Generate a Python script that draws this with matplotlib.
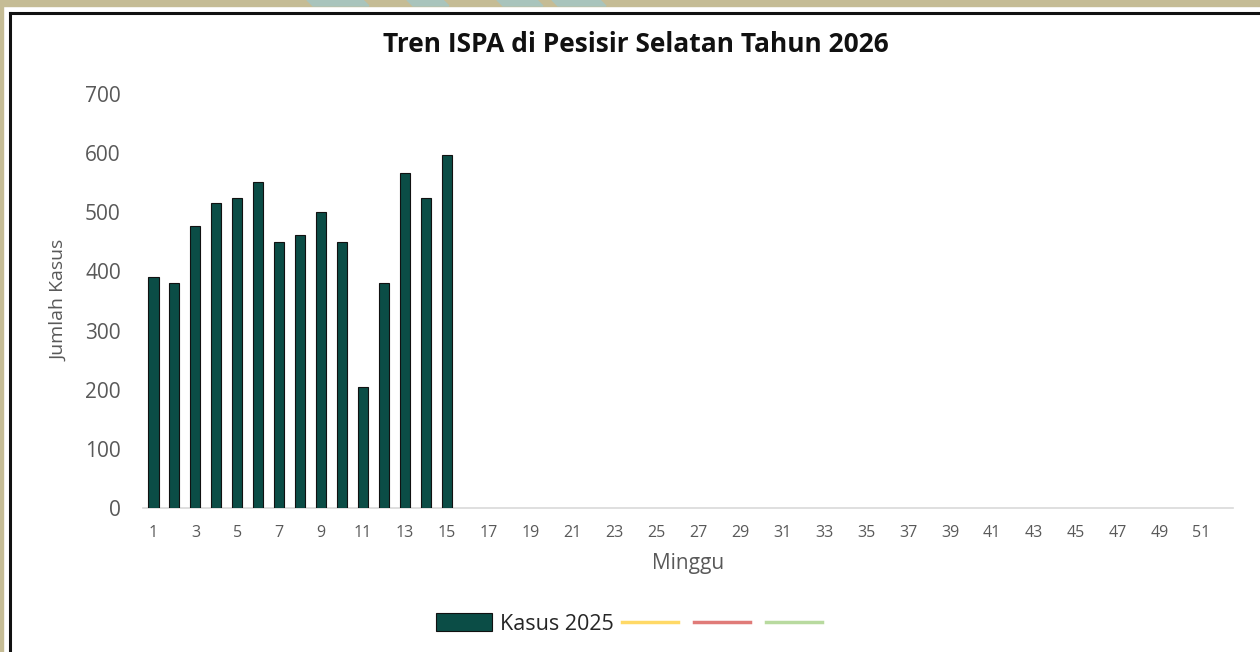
import matplotlib.pyplot as plt
from matplotlib.lines import Line2D
from matplotlib.patches import Patch, Rectangle, Polygon

# weekly ISPA cases (weeks 1-15 filled, rest empty)
weeks = list(range(1, 53))
kasus_2025 = [390, 380, 476, 516, 524, 552, 450, 461, 501, 450, 204, 380, 566, 524, 597]
y_ticks = [0, 100, 200, 300, 400, 500, 600, 700]
x_tick_labels = [str(w) for w in weeks[::2]]

bar_color = '#0b4d46'
line_colors = ['#ffd966', '#e07b78', '#b8da9f']

plt.rcParams['font.family'] = ['Open Sans', 'DejaVu Sans']

fig = plt.figure(figsize=(12.6, 6.52), dpi=100)
W, H = 1260, 652

# beige frame around the slide, with thin decorative teal strips on top
fig.patches.append(Rectangle((0, 1 - 6 / H), 1, 6 / H, transform=fig.transFigure,
                             color='#c5bc95', zorder=0))
fig.patches.append(Rectangle((0, 0), 3 / W, 1, transform=fig.transFigure,
                             color='#c5bc95', zorder=0))
for x0, x1 in [(307, 363), (407, 443), (497, 537), (552, 600)]:
    fig.patches.append(Polygon([(x0 / W, 1), (x1 / W, 1), ((x1 + 6) / W, 1 - 6 / H),
                                ((x0 + 6) / W, 1 - 6 / H)], closed=True,
                               transform=fig.transFigure, color='#a9c4bc', zorder=1))
# black chart border (top and left)
fig.add_artist(Line2D([10 / W, 1], [1 - 13 / H, 1 - 13 / H], transform=fig.transFigure,
                      color='#111111', lw=2.2))
fig.add_artist(Line2D([10 / W, 10 / W], [0, 1 - 13 / H], transform=fig.transFigure,
                      color='#111111', lw=2.2))

ax = fig.add_axes([143 / W, 1 - 508 / H, (1233 - 143) / W, (508 - 94) / H])
ax.bar(weeks[:len(kasus_2025)], kasus_2025, width=0.48, color=bar_color,
       edgecolor='#111111', linewidth=0.8, zorder=3)

ax.set_xlim(0.5, 52.5)
ax.set_ylim(0, 700)
ax.set_yticks(y_ticks)
ax.set_xticks(weeks[::2])
ax.set_xticklabels(x_tick_labels)
ax.tick_params(axis='y', length=0, labelsize=15, labelcolor='#595959', pad=16)
ax.tick_params(axis='x', length=0, labelsize=11.5, labelcolor='#595959', pad=12)
for s in ['top', 'right', 'left']:
    ax.spines[s].set_visible(False)
ax.spines['bottom'].set_color('#d9d9d9')
ax.spines['bottom'].set_linewidth(1.2)

fig.text(636 / W, 1 - 45 / H, 'Tren ISPA di Pesisir Selatan Tahun 2026', ha='center',
         va='center', fontsize=19, fontweight='bold', color='#111111')
fig.text(59 / W, 1 - 300 / H, 'Jumlah Kasus', rotation=90, ha='center', va='center',
         fontsize=14, color='#595959')
fig.text(688 / W, 1 - 563 / H, 'Minggu', ha='center', va='center',
         fontsize=15, color='#595959')

handles = [Patch(facecolor=bar_color, edgecolor='#111111', linewidth=0.8)]
handles += [Line2D([], [], color=c, lw=2.5) for c in line_colors]
labels = ['Kasus 2025', '', '', '']
fig.legend(handles, labels, loc='center', bbox_to_anchor=(633 / W, 1 - 624 / H), ncol=4,
           frameon=False, fontsize=15.5, handlelength=2.6, handleheight=0.9,
           handletextpad=0.35, columnspacing=0.4, labelcolor='#262626')

fig.savefig('out.png', dpi=100, facecolor='white')
